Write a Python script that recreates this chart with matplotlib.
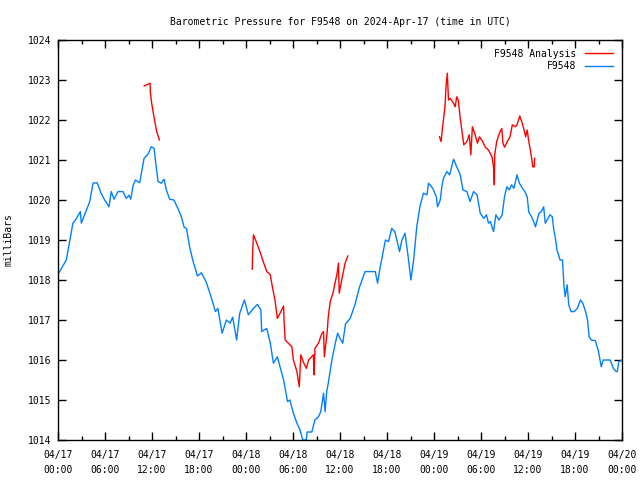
import numpy as np
import matplotlib
matplotlib.use("Agg")
import matplotlib.pyplot as plt

# hours since 2024-04-17 00:00 UTC, pressure in millibars
station_h = [0.0, 0.2, 1.06, 1.9, 2.3, 2.85, 2.98, 3.4, 4.05, 4.47, 5.0, 5.5, 5.9,
             6.5, 6.8, 7.15, 7.66, 8.3, 8.7, 9.07, 9.28, 9.6, 9.88, 10.43, 10.65,
             10.98, 11.5, 11.9, 12.26, 12.48, 12.77, 13.19, 13.54, 13.83, 14.26,
             14.8, 15.3, 15.75, 16.1, 16.4, 16.8, 17.2, 17.8, 18.3, 18.9, 19.6,
             20.1, 20.4, 20.95, 21.5, 21.97, 22.3, 22.8, 23.2, 23.8, 24.3, 24.95,
             25.46, 25.9, 26.0, 26.65, 27.1, 27.5, 28.0, 28.35, 28.8, 29.3, 29.6,
             30.05, 30.5, 30.9, 31.25, 31.7, 31.8, 32.4, 32.8, 33.25, 33.55, 33.9,
             34.1, 34.3, 34.5, 34.96, 35.4, 35.7, 36.0, 36.35, 36.7, 37.3, 37.9,
             38.5, 39.2, 40.5, 40.8, 41.1, 41.8, 42.2, 42.6, 43.0, 43.6, 43.9,
             44.3, 44.7, 45.05, 45.4, 45.8, 46.2, 46.65, 47.1, 47.3, 47.85, 48.3,
             48.45, 48.8, 49.0, 49.2, 49.65, 50.0, 50.5, 50.9, 51.35, 51.7, 52.2,
             52.6, 53.05, 53.5, 53.9, 54.35, 54.7, 54.95, 55.2, 55.6, 55.9, 56.3,
             56.7, 57.0, 57.3, 57.6, 57.9, 58.2, 58.6, 58.9, 59.3, 59.6, 59.9,
             60.1, 60.4, 60.75, 60.95, 61.4, 61.7, 62.0, 62.2, 62.8, 63.1, 63.3,
             63.5, 63.7, 64.1, 64.4, 64.6, 64.75, 65.0, 65.2, 65.5, 65.9, 66.3,
             66.7, 67.0, 67.35, 67.6, 67.8, 68.1, 68.6, 69.0, 69.35, 69.6, 70.5,
             70.9, 71.25, 71.4, 71.6, 72.0]
station_p = [1018.15, 1018.21, 1018.5, 1019.42, 1019.52, 1019.71, 1019.42, 1019.63,
             1019.96, 1020.42, 1020.43, 1020.17, 1020.02, 1019.83, 1020.21, 1020.02,
             1020.21, 1020.21, 1020.04, 1020.12, 1020.02, 1020.37, 1020.5, 1020.43,
             1020.67, 1021.04, 1021.15, 1021.33, 1021.29, 1020.92, 1020.46, 1020.42,
             1020.52, 1020.25, 1020.02, 1020.0, 1019.79, 1019.58, 1019.32, 1019.29,
             1018.83, 1018.5, 1018.1, 1018.18, 1017.96, 1017.54, 1017.21, 1017.29,
             1016.67, 1017.0, 1016.92, 1017.07, 1016.5, 1017.17, 1017.5, 1017.13,
             1017.29, 1017.39, 1017.25, 1016.71, 1016.79, 1016.42, 1015.92, 1016.08,
             1015.83, 1015.5, 1014.96, 1015.0, 1014.67, 1014.42, 1014.25, 1014.0,
             1014.0, 1014.2, 1014.2, 1014.5, 1014.58, 1014.71, 1015.17, 1014.71,
             1015.21, 1015.42, 1016.0, 1016.42, 1016.67, 1016.54, 1016.42, 1016.9,
             1017.04, 1017.38, 1017.83, 1018.21, 1018.21, 1017.92, 1018.29, 1019.0,
             1018.96, 1019.29, 1019.21, 1018.71, 1019.0, 1019.17, 1018.58, 1018.0,
             1018.5, 1019.33, 1019.83, 1020.17, 1020.13, 1020.42, 1020.29, 1020.08,
             1019.83, 1020.0, 1020.33, 1020.54, 1020.71, 1020.63, 1021.02, 1020.83,
             1020.63, 1020.25, 1020.21, 1019.96, 1020.21, 1020.13, 1019.67, 1019.54,
             1019.63, 1019.42, 1019.46, 1019.21, 1019.63, 1019.5, 1019.63, 1020.08,
             1020.33, 1020.25, 1020.38, 1020.29, 1020.63, 1020.42, 1020.29, 1020.21,
             1020.08, 1019.7, 1019.6, 1019.45, 1019.33, 1019.67, 1019.71, 1019.83,
             1019.42, 1019.63, 1019.58, 1019.25, 1019.04, 1018.75, 1018.5, 1018.5,
             1017.83, 1017.58, 1017.88, 1017.38, 1017.21, 1017.21, 1017.29, 1017.5,
             1017.42, 1017.21, 1017.0, 1016.58, 1016.5, 1016.48, 1016.21, 1015.83,
             1016.0, 1016.0, 1015.79, 1015.71, 1015.71, 1015.96, 1016.0]

# analysis series, NaN marks the gaps between runs
analysis_h = [11.0, 11.3, 11.75, 11.8, 11.96, 12.17, 12.4, 12.6, 12.94, np.nan,
              24.8, 24.85, 24.95, 25.3, 25.7, 26.2, 26.65, 27.1, 27.4, 27.7, 28.0,
              28.35, 28.8, 28.85, 29.0, 29.4, 29.85, 30.05, 30.5, 30.8, 31.0, 31.3,
              31.7, 32.0, 32.6, 32.7, 32.8, 33.25, 33.7, 33.9, 34.0, 34.2, 34.35,
              34.5, 34.75, 35.1, 35.4, 35.6, 35.8, 35.9, 36.1, 36.35, 36.65, 37.0,
              np.nan,
              48.7, 48.9, 49.1, 49.4, 49.55, 49.7, 49.85, 50.07, 50.5, 50.7, 50.9,
              51.1, 51.35, 51.55, 51.8, 52.2, 52.5, 52.7, 52.9, 53.25, 53.55, 53.8,
              54.1, 54.55, 54.95, 55.4, 55.6, 55.7, 55.75, 56.0, 56.35, 56.65, 56.8,
              57.0, 57.35, 57.7, 58.0, 58.4, 58.6, 58.95, 59.2, 59.5, 59.7, 59.9,
              60.1, 60.3, 60.5, 60.6, 60.8, 60.85]
analysis_p = [1022.85, 1022.875, 1022.92, 1022.67, 1022.42, 1022.17, 1021.92, 1021.71,
              1021.5, np.nan,
              1018.27, 1018.71, 1019.13, 1018.96, 1018.75, 1018.46, 1018.21, 1018.13,
              1017.79, 1017.5, 1017.04, 1017.17, 1017.35, 1017.0, 1016.5, 1016.42,
              1016.33, 1016.0, 1015.71, 1015.33, 1016.13, 1015.96, 1015.79, 1016.0,
              1016.13, 1015.63, 1016.29, 1016.42, 1016.67, 1016.71, 1016.08, 1016.42,
              1016.67, 1017.08, 1017.46, 1017.67, 1017.96, 1018.13, 1018.42, 1017.67,
              1017.88, 1018.13, 1018.42, 1018.6,
              np.nan,
              1021.58, 1021.46, 1021.83, 1022.33, 1022.88, 1023.17, 1022.5, 1022.54,
              1022.42, 1022.33, 1022.58, 1022.5, 1022.04, 1021.75, 1021.38, 1021.46,
              1021.63, 1021.13, 1021.83, 1021.63, 1021.42, 1021.58, 1021.5, 1021.32,
              1021.25, 1021.08, 1020.83, 1020.38, 1021.13, 1021.46, 1021.67, 1021.79,
              1021.42, 1021.32, 1021.46, 1021.58, 1021.88, 1021.83, 1021.88, 1022.1,
              1021.96, 1021.75, 1021.58, 1021.75, 1021.46, 1021.25, 1021.0, 1020.83,
              1020.83, 1021.04]

tick_h = list(range(0, 73, 6))
tick_labels = ["04/17\n00:00", "04/17\n06:00", "04/17\n12:00", "04/17\n18:00",
               "04/18\n00:00", "04/18\n06:00", "04/18\n12:00", "04/18\n18:00",
               "04/19\n00:00", "04/19\n06:00", "04/19\n12:00", "04/19\n18:00",
               "04/20\n00:00"]

plt.rcParams['font.family'] = 'DejaVu Sans Mono'
plt.rcParams['font.size'] = 7

fig = plt.figure(figsize=(6.4, 4.8), dpi=100)
ax = fig.add_axes([58/640, 40/480, 564/640, 400/480])

ax.plot(analysis_h, analysis_p, color='#ff0000', lw=1, label='F9548 Analysis')
ax.plot(station_h, station_p, color='#0080ff', lw=1, label='F9548')

ax.set_xlim(0, 72)
ax.set_ylim(1014, 1024)
ax.set_xticks(tick_h)
ax.set_xticklabels(tick_labels, linespacing=1.6)
ax.set_xticks(np.arange(3, 72, 6), minor=True)
ax.set_yticks(np.arange(1014, 1025, 1))
ax.tick_params(axis='x', direction='in', top=True, length=6, width=1,
               labelsize=7, pad=7)
ax.tick_params(axis='y', direction='in', right=True, length=6, width=1,
               labelsize=7, pad=5)
ax.tick_params(which='minor', direction='in', top=True, length=3, width=1)
for s in ax.spines.values():
    s.set_linewidth(1)

ax.set_ylabel('milliBars', fontsize=7, labelpad=10)
ax.set_title('Barometric Pressure for F9548 on 2024-Apr-17 (time in UTC)',
             fontsize=7, pad=11)

leg = ax.legend(loc='upper right', frameon=False, markerfirst=False,
                handlelength=2.9, handletextpad=0.9, labelspacing=0.25,
                borderaxespad=0.5, fontsize=7)

fig.savefig('out.png', dpi=100)
